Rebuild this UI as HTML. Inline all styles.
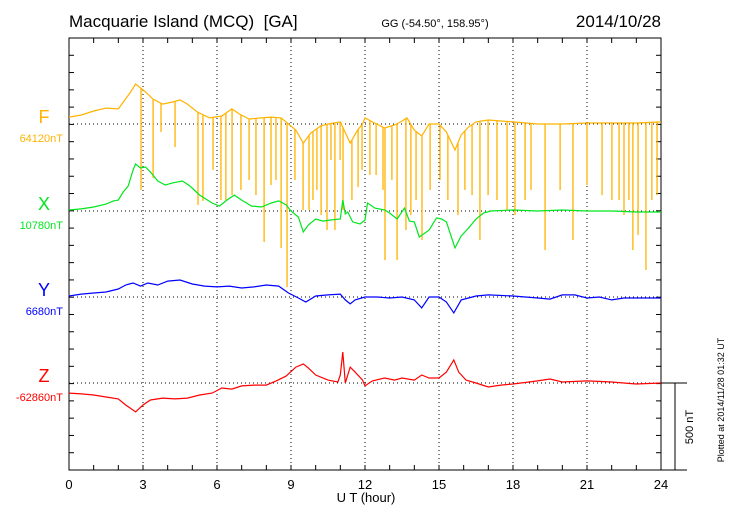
<!DOCTYPE html>
<html><head><meta charset="utf-8"><style>
body{margin:0;background:#fff}
svg{display:block;font-family:"Liberation Sans",sans-serif}
</style></head><body>
<svg id="c" width="730" height="520">
<text x="69" y="27" font-size="17">Macquarie Island (MCQ)&#160; [GA]</text>
<text x="435" y="27" font-size="11" text-anchor="middle">GG (-54.50°, 158.95°)</text>
<text x="661" y="27" font-size="17" text-anchor="end">2014/10/28</text>
<text x="366" y="502" font-size="13" text-anchor="middle">U T (hour)</text>
<text transform="translate(724,400) rotate(-90)" font-size="9" text-anchor="middle">Plotted at 2014/11/28 01:32 UT</text>
<text transform="translate(693,427) rotate(-90)" font-size="11" text-anchor="middle">500 nT</text>
<g id="g"></g>
</svg>
<script>
const xTicks=[0,3,6,9,12,15,18,21,24];
const fT=[0,0.5,1,1.5,2,2.2,2.5,2.7,2.9,3.1,3.4,3.8,4.2,4.5,4.8,5.2,5.7,6.2,6.6,6.9,7.3,7.8,8.2,8.6,8.9,9.2,9.5,9.8,10.2,10.5,11.0,11.4,11.7,11.9,12.0,12.3,12.8,13.2,13.5,13.7,14.0,14.3,14.6,15.0,15.3,15.65,15.9,16.2,16.5,17,18,19,20,21,22,23,24];
const fV=[40,52,75,92,87,127,185,231,208,185,144,115,127,139,115,69,35,46,87,58,29,35,40,35,0,-35,-110,-52,-12,0,12,-110,-35,0,35,12,-23,-6,17,35,-35,-69,0,0,-46,-150,-63,-17,12,23,12,0,0,6,6,6,12];
const spikeT=[2.92,3.41,3.73,4.30,5.23,5.43,5.84,6.16,6.36,6.61,6.97,7.30,7.58,7.91,8.19,8.39,8.60,8.84,9.16,9.49,9.73,9.89,10.05,10.22,10.46,10.62,10.78,10.99,11.11,11.47,11.72,11.88,12.20,12.45,12.73,12.81,13.09,13.30,13.66,13.86,14.07,14.31,14.64,15.04,15.36,15.77,16.05,16.34,16.66,16.99,17.35,17.76,18.08,18.49,18.73,19.30,19.91,20.43,21.00,21.61,22.01,22.30,22.50,22.70,22.86,23.07,23.39,23.63,23.84];
const spikeV=[-381,-312,-46,-133,-467,-444,-265,-439,-439,-410,-381,-323,-410,-681,-352,-323,-716,-941,-323,-496,-496,-439,-381,-525,-612,-208,-612,-208,-496,-439,-364,-265,-294,-294,-381,-785,-323,-785,-612,-525,-439,-669,-381,-323,-439,-525,-381,-410,-669,-410,-439,-496,-525,-439,-381,-727,-381,-669,-352,-410,-439,-439,-525,-439,-727,-640,-842,-439,-410];
const xT=[0,0.5,1,1.5,1.8,2,2.2,2.4,2.6,2.7,2.9,3.1,3.3,3.6,3.9,4.2,4.6,4.9,5.3,5.8,6.1,6.4,6.7,7.0,7.4,7.8,8.2,8.5,8.8,9.0,9.3,9.5,9.7,10,10.3,10.6,11.0,11.1,11.2,11.3,11.5,11.8,12.0,12.1,12.4,12.8,13.0,13.3,13.6,13.8,14.0,14.2,14.6,14.9,15.1,15.3,15.65,15.9,16.2,16.5,16.8,17.1,18,19,20,21,22,23,24];
const xV=[6,12,23,40,58,63,110,144,237,271,248,254,225,173,150,162,173,144,92,46,29,63,92,63,29,23,46,58,35,0,-35,-121,-81,-46,-58,-52,-46,63,-17,-6,-63,-75,-52,46,17,6,-12,-46,17,-58,-63,-150,-110,-40,-46,-63,-213,-144,-98,-46,-12,0,6,0,6,0,0,-6,-6];
const yT=[0,0.5,1,1.5,2,2.3,2.6,2.9,3.2,3.6,4,4.5,5,5.5,6,6.5,7,7.5,8,8.5,8.9,9.3,9.6,10,10.5,11,11.2,11.4,11.6,12,12.5,13,13.5,14,14.3,14.6,15,15.3,15.6,15.9,16.2,16.5,17,18,19,19.5,20,20.5,21,21.5,22,22.5,23,24];
const yV=[6,17,23,29,46,69,81,63,81,69,92,98,75,63,58,63,52,58,69,63,23,-6,-29,6,12,17,-17,-40,-17,0,0,-6,0,-17,-63,0,0,-29,-92,-17,-6,6,12,6,-6,-12,12,12,-6,0,-17,-6,-6,-6];
const zT=[0,0.5,1,1.5,2,2.3,2.7,3.0,3.3,3.8,4.3,4.8,5.3,5.8,6.2,6.6,7.0,7.5,8,8.4,8.8,9.2,9.5,9.7,10,10.5,10.9,11.0,11.1,11.2,11.4,11.6,11.9,12,12.3,12.8,13.2,13.5,14,14.3,14.6,15,15.3,15.6,15.8,16.1,16.5,17,17.5,18,19,19.5,20,21,22,23,24];
const zV=[-58,-63,-69,-81,-92,-127,-167,-127,-98,-87,-92,-87,-69,-58,-29,-35,-17,-12,-12,12,40,92,110,87,46,17,6,46,179,0,92,63,17,-17,12,29,17,29,17,46,29,29,63,133,63,17,0,-23,-12,-6,12,23,6,12,6,-6,0];

const L=69,R=661,T=38,B=470,base={F:124,X:211,Y:297,Z:383};
const sx=t=>L+t*(R-L)/24;
const sy=(b,v)=>b-v*86.67/500;
const g=document.getElementById('g');
const NS='http://www.w3.org/2000/svg';
function mk(tag,attrs,name){const e=document.createElementNS(NS,tag);for(const k in attrs)e.setAttribute(k,attrs[k]);


g.appendChild(e);return e;}
xTicks.slice(1,-1).forEach(t=>mk('line',{x1:sx(t),x2:sx(t),y1:T,y2:B,stroke:'#000','stroke-width':1,'stroke-dasharray':'1,3'},'grid-line-x'));
['F','X','Y','Z'].forEach(k=>mk('line',{x1:L,x2:R,y1:base[k],y2:base[k],stroke:'#000','stroke-width':1,'stroke-dasharray':'1,3'},'baseline-'+k.toLowerCase()));
mk('rect',{x:L,y:T,width:R-L,height:B-T,fill:'none',stroke:'#000','stroke-width':1},'plot-frame');
mk('line',{x1:R,x2:687,y1:base.Z,y2:base.Z,stroke:'#000'},'scale-top');
mk('line',{x1:R,x2:687,y1:B,y2:B,stroke:'#000'},'scale-bottom');
mk('line',{x1:675,x2:675,y1:base.Z,y2:B,stroke:'#000'},'scale-bar');
for(let h=1;h<24;h++){mk('line',{x1:sx(h),x2:sx(h),y1:T,y2:T+5,stroke:'#000'},'tick-top');mk('line',{x1:sx(h),x2:sx(h),y1:B,y2:B-5,stroke:'#000'},'tick-bottom');}
for(let i=1;i<25;i++){const y=T+i*(B-T)/25;mk('line',{x1:L,x2:L+5,y1:y,y2:y,stroke:'#000'},'tick-left');mk('line',{x1:R,x2:R-5,y1:y,y2:y,stroke:'#000'},'tick-right');}
xTicks.forEach(t=>{const e=mk('text',{x:sx(t),y:489,'font-size':13,'text-anchor':'middle'},'x-tick-label');e.textContent=t;});
function path(ts,vs,b){let d='';const n=Math.min(ts.length,vs.length);for(let i=0;i<n;i++)d+=(i?'L':'M')+sx(ts[i]).toFixed(1)+','+sy(b,vs[i]).toFixed(1);return d;}
function interp(ts,vs,t){for(let i=1;i<ts.length;i++)if(t<=ts[i]){const a=(t-ts[i-1])/(ts[i]-ts[i-1]);return vs[i-1]+a*(vs[i]-vs[i-1]);}return vs[vs.length-1];}
const cols={F:'#ffb300',X:'#00e61e',Y:'#0000ff',Z:'#ff0000'};
spikeT.forEach((t,i)=>{const v0=interp(fT,fV,t);mk('line',{x1:sx(t),x2:sx(t),y1:sy(base.F,v0),y2:sy(base.F,spikeV[i]),stroke:cols.F,'stroke-width':1.3},'f-spike');});
mk('path',{d:path(fT,fV,base.F),fill:'none',stroke:cols.F,'stroke-width':1.2},'series-f');
mk('path',{d:path(xT,xV,base.X),fill:'none',stroke:cols.X,'stroke-width':1.2},'series-x');
mk('path',{d:path(yT,yV,base.Y),fill:'none',stroke:cols.Y,'stroke-width':1.2},'series-y');
mk('path',{d:path(zT,zV,base.Z),fill:'none',stroke:cols.Z,'stroke-width':1.2},'series-z');
const labs=[['F','64120nT'],['X','10780nT'],['Y','6680nT'],['Z','-62860nT']];
labs.forEach(([k,v])=>{const b=base[k];
const a=mk('text',{x:44,y:b-1,'font-size':18,'text-anchor':'middle',fill:cols[k]},'label-'+k.toLowerCase());a.textContent=k;
const c=mk('text',{x:63,y:b+18,'font-size':11,'text-anchor':'end',fill:cols[k]},'base-value-'+k.toLowerCase());c.textContent=v;});
</script>
</body></html>
